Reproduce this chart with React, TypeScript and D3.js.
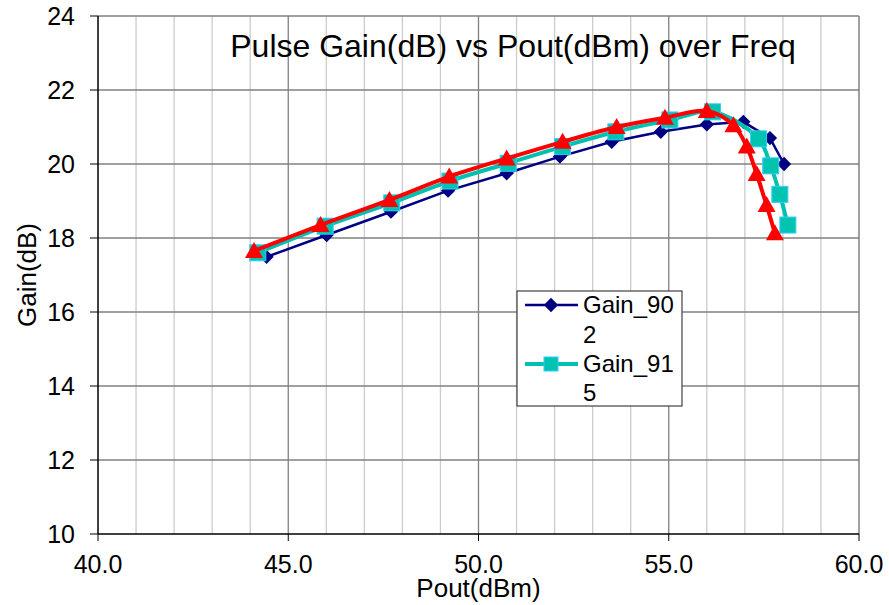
import React, { useRef, useEffect } from 'react';
import * as d3 from 'd3';

const pout902 = [44.43, 46.01, 47.7, 49.2, 50.74, 52.14, 53.5, 54.79, 56.0, 56.96, 57.66, 58.03];
const gain902 = [17.49, 18.08, 18.71, 19.28, 19.75, 20.2, 20.6, 20.87, 21.07, 21.14, 20.7, 20.0];
const pout915 = [44.2, 45.97, 47.72, 49.25, 50.78, 52.21, 53.61, 55.03, 56.15, 57.36, 57.68, 57.92, 58.13];
const gain915 = [17.6, 18.32, 18.95, 19.54, 20.02, 20.47, 20.87, 21.19, 21.41, 20.68, 19.95, 19.18, 18.35];
const pout930 = [44.1, 45.85, 47.66, 49.23, 50.74, 52.21, 53.63, 54.9, 56.0, 56.7, 57.05, 57.31, 57.57, 57.79];
const gain930 = [17.65, 18.35, 19.03, 19.66, 20.15, 20.6, 21.0, 21.25, 21.43, 21.05, 20.47, 19.73, 18.89, 18.13];
const xTicks = [40, 45, 50, 55, 60];
const yTicks = [10, 12, 14, 16, 18, 20, 22, 24];

const App = () => {
  const ref = useRef<SVGSVGElement>(null);
  useEffect(() => {
    const svg = d3.select(ref.current);
    svg.selectAll('*').remove();
    const font = 'Arial, "Liberation Sans", sans-serif';
    const left = 98, right = 859, top = 16, bottom = 534;
    const x = d3.scaleLinear().domain([40, 60]).range([left, right]);
    const y = d3.scaleLinear().domain([10, 24]).range([bottom, top]);

    // grid
    const g = svg.append('g');
    g.selectAll('line.vg').data(d3.range(41, 60)).join('line')
      .attr('x1', d => x(d)).attr('x2', d => x(d)).attr('y1', top).attr('y2', bottom)
      .attr('stroke', d => (d % 5 === 0 ? '#808080' : '#cccccc')).attr('stroke-width', 1.3);
    g.selectAll('line.hg').data(yTicks.slice(1, -1)).join('line')
      .attr('x1', left).attr('x2', right).attr('y1', d => y(d)).attr('y2', d => y(d))
      .attr('stroke', '#808080').attr('stroke-width', 1.3);
    // borders
    g.append('line').attr('x1', left).attr('x2', right).attr('y1', top).attr('y2', top).attr('stroke', '#808080').attr('stroke-width', 1.5);
    g.append('line').attr('x1', right).attr('x2', right).attr('y1', top).attr('y2', bottom).attr('stroke', '#808080').attr('stroke-width', 1.5);
    g.append('line').attr('x1', left).attr('x2', left).attr('y1', top).attr('y2', bottom).attr('stroke', '#000').attr('stroke-width', 1.5);
    g.append('line').attr('x1', left).attr('x2', right).attr('y1', bottom).attr('y2', bottom).attr('stroke', '#000').attr('stroke-width', 1.5);

    // ticks
    g.selectAll('line.yt').data(yTicks).join('line')
      .attr('x1', left - 8).attr('x2', left).attr('y1', d => y(d)).attr('y2', d => y(d)).attr('stroke', '#000');
    g.selectAll('line.xt').data(xTicks).join('line')
      .attr('x1', d => x(d)).attr('x2', d => x(d)).attr('y1', bottom).attr('y2', bottom + 7).attr('stroke', '#000');
    g.selectAll('text.yl').data(yTicks).join('text')
      .attr('x', 75).attr('y', d => y(d) + 9).attr('text-anchor', 'end')
      .style('font-family', font).style('font-size', '25px').text(d => d);
    g.selectAll('text.xl').data(xTicks).join('text')
      .attr('x', d => x(d)).attr('y', 573).attr('text-anchor', 'middle')
      .style('font-family', font).style('font-size', '25px').text(d => d.toFixed(1));

    // titles
    svg.append('text').attr('x', (left + right) / 2).attr('y', 597).attr('text-anchor', 'middle')
      .style('font-family', font).style('font-size', '26px').text('Pout(dBm)');
    svg.append('text').attr('transform', `translate(36,${(top + bottom) / 2}) rotate(-90)`).attr('text-anchor', 'middle')
      .style('font-family', font).style('font-size', '26px').text('Gain(dB)');
    svg.append('text').attr('x', 513).attr('y', 57).attr('text-anchor', 'middle')
      .style('font-family', font).style('font-size', '32px').text('Pulse Gain(dB) vs Pout(dBm) over Freq');

    const pts = (xs: number[], ys: number[]) => xs.map((v, i) => [x(v), y(ys[i])] as [number, number]);
    const linear = d3.line().curve(d3.curveLinear);
    const smooth = d3.line().curve(d3.curveCatmullRom.alpha(0.5));

    // Gain_902
    const p1 = pts(pout902, gain902);
    svg.append('path').attr('d', linear(p1)).attr('fill', 'none').attr('stroke', '#000080').attr('stroke-width', 2.5);
    svg.selectAll('path.d1').data(p1).join('path').attr('class', 'd1')
      .attr('d', d3.symbol().type(d3.symbolDiamond2).size(130)())
      .attr('transform', d => `translate(${d[0]},${d[1]})`).attr('fill', '#000080');

    // Gain_915
    const p2 = pts(pout915, gain915);
    svg.append('path').attr('d', smooth(p2)).attr('fill', 'none').attr('stroke', '#00c0b0').attr('stroke-width', 4);
    svg.selectAll('rect.s2').data(p2).join('rect').attr('class', 's2')
      .attr('x', d => d[0] - 8).attr('y', d => d[1] - 8).attr('width', 16).attr('height', 16)
      .attr('fill', '#00c4b0').attr('stroke', '#33ccff').attr('stroke-width', 1);

    // Gain_930
    const p3 = pts(pout930, gain930);
    svg.append('path').attr('d', smooth(p3)).attr('fill', 'none').attr('stroke', '#ff0000').attr('stroke-width', 4);
    svg.selectAll('path.t3').data(p3).join('path').attr('class', 't3')
      .attr('d', 'M0,-9L9,7L-9,7Z')
      .attr('transform', d => `translate(${d[0]},${d[1]})`).attr('fill', '#ff0000');

    // legend
    const lg = svg.append('g');
    lg.append('rect').attr('x', 517).attr('y', 291).attr('width', 165).attr('height', 115)
      .attr('fill', '#fff').attr('stroke', '#404040').attr('stroke-width', 1.2);
    lg.append('line').attr('x1', 525).attr('x2', 578).attr('y1', 305).attr('y2', 305).attr('stroke', '#000080').attr('stroke-width', 2.5);
    lg.append('path').attr('d', d3.symbol().type(d3.symbolDiamond2).size(130)())
      .attr('transform', 'translate(551,305)').attr('fill', '#000080');
    lg.append('line').attr('x1', 525).attr('x2', 578).attr('y1', 364).attr('y2', 364).attr('stroke', '#00c0b0').attr('stroke-width', 4);
    lg.append('rect').attr('x', 544).attr('y', 357).attr('width', 14).attr('height', 14)
      .attr('fill', '#00c4b0').attr('stroke', '#33ccff').attr('stroke-width', 1);
    const lt = [['Gain_90', 313], ['2', 343], ['Gain_91', 372], ['5', 401]] as [string, number][];
    lg.selectAll('text').data(lt).join('text').attr('x', 583).attr('y', d => d[1])
      .style('font-family', font).style('font-size', '24px').text(d => d[0]);
  }, []);

  return <svg ref={ref} width={889} height={605} style={{ position: 'absolute', left: 0, top: 0, background: '#fff' }} />;
};

export default App;
